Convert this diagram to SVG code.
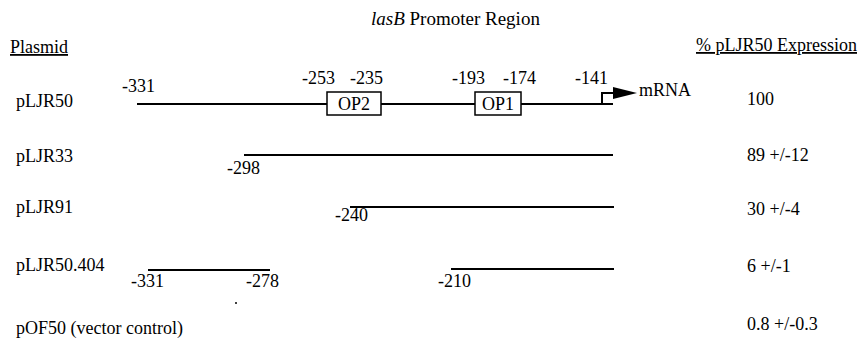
<svg xmlns="http://www.w3.org/2000/svg" width="862" height="338" viewBox="0 0 862 338" font-family="'Liberation Serif', 'Times New Roman', Times, serif" font-size="18">
<style>
text{font-family:'Liberation Serif','Times New Roman',Times,serif;font-size:18px;fill:#000}
.ln{stroke:#000;stroke-width:2;fill:none}
.box{stroke:#000;stroke-width:1.5;fill:#fff}
.ul{text-decoration:underline}
</style>
<rect width="862" height="338" fill="#fff"/>
<text x="371" y="25" style="font-size:19px"><tspan font-style="italic">lasB</tspan> Promoter Region</text>
<text x="10" y="53" class="ul">Plasmid</text>
<text x="696" y="51" class="ul">% pLJR50 Expression</text>

<g id="connectors">
<line class="ln" x1="137" y1="104" x2="613" y2="104"/>
<polyline class="ln" points="602,104 602,93 614,93"/>
<polygon points="613,87 637,93 613,99" fill="#000"/>
<line class="ln" x1="244" y1="155" x2="613" y2="155"/>
<line class="ln" x1="350" y1="207" x2="614" y2="207"/>
<line class="ln" x1="148" y1="270" x2="270" y2="270"/>
<line class="ln" x1="451" y1="269" x2="614" y2="269"/>
</g>

<g id="pLJR50">
<text x="16" y="107">pLJR50</text>
<text x="122" y="92">-331</text>
<text x="302" y="84">-253</text>
<text x="350" y="84">-235</text>
<text x="452" y="84">-193</text>
<text x="503" y="84">-174</text>
<text x="575" y="84">-141</text>
<text x="639" y="96">mRNA</text>
<text x="747" y="105">100</text>
</g>
<g id="OP2">
<rect class="box" x="327" y="92" width="54" height="23"/>
<text x="354" y="110" text-anchor="middle">OP2</text>
</g>
<g id="OP1">
<rect class="box" x="475" y="92" width="46" height="23"/>
<text x="498" y="110" text-anchor="middle">OP1</text>
</g>
<g id="pLJR33">
<text x="16" y="162">pLJR33</text>
<text x="227" y="174">-298</text>
<text x="747" y="161">89 +/-12</text>
</g>
<g id="pLJR91">
<text x="16" y="213">pLJR91</text>
<text x="335" y="221">-240</text>
<text x="747" y="215">30 +/-4</text>
</g>
<g id="pLJR50.404">
<text x="16" y="271">pLJR50.404</text>
<text x="131" y="287">-331</text>
<text x="246" y="287">-278</text>
<text x="438" y="287">-210</text>
<text x="747" y="272">6 +/-1</text>
<circle cx="236" cy="303" r="1" fill="#000"/>
</g>
<g id="pOF50">
<text x="16" y="334">pOF50 (vector control)</text>
<text x="747" y="330">0.8 +/-0.3</text>
</g>
</svg>
